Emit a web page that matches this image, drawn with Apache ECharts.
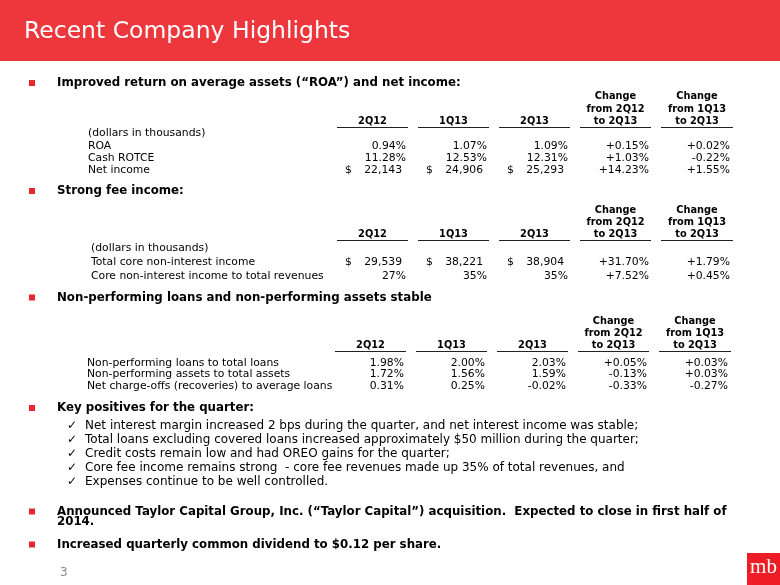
<!DOCTYPE html>
<html>
<head>
<meta charset="utf-8">
<script src="https://cdn.jsdelivr.net/npm/echarts@6/dist/echarts.min.js"></script>
<style>
html,body{margin:0;padding:0;background:#fff;}
#main{width:780px;height:585px;}
</style>
</head>
<body>
<div id="main"></div>
<script>
// ---------- data ----------
const titleText = 'Recent Company Highlights';
const periods = ['2Q12', '1Q13', '2Q13'];
const changeHeaders = [['Change', 'from 2Q12', 'to 2Q13'], ['Change', 'from 1Q13', 'to 2Q13']];
const unitNote = '(dollars in thousands)';

const heading1 = 'Improved return on average assets (\u201cROA\u201d) and net income:';
const sec1Labels = ['ROA', 'Cash ROTCE', 'Net income'];
const roa = [0.94, 1.07, 1.09];
const roaChange = [0.15, 0.02];
const cashRotce = [11.28, 12.53, 12.31];
const cashRotceChange = [1.03, -0.22];
const netIncome = [22143, 24906, 25293];
const netIncomeChange = [14.23, 1.55];

const heading2 = 'Strong fee income:';
const sec2Labels = ['Total core non-interest income', 'Core non-interest income to total revenues'];
const coreFeeIncome = [29539, 38221, 38904];
const coreFeeIncomeChange = [31.70, 1.79];
const coreFeeRatio = [27, 35, 35];
const coreFeeRatioChange = [7.52, 0.45];

const heading3 = 'Non-performing loans and non-performing assets stable';
const sec3Labels = ['Non-performing loans to total loans', 'Non-performing assets to total assets', 'Net charge-offs (recoveries) to average loans'];
const nplRatio = [1.98, 2.00, 2.03];
const nplRatioChange = [0.05, 0.03];
const npaRatio = [1.72, 1.56, 1.59];
const npaRatioChange = [-0.13, 0.03];
const ncoRatio = [0.31, 0.25, -0.02];
const ncoRatioChange = [-0.33, -0.27];

const heading4 = 'Key positives for the quarter:';
const keyPositives = [
  'Net interest margin increased 2 bps during the quarter, and net interest income was stable;',
  'Total loans excluding covered loans increased approximately $50 million during the quarter;',
  'Credit costs remain low and had OREO gains for the quarter;',
  'Core fee income remains strong  - core fee revenues made up 35% of total revenues, and',
  'Expenses continue to be well controlled.'
];
const heading5 = ['Announced Taylor Capital Group, Inc. (\u201cTaylor Capital\u201d) acquisition.  Expected to close in first half of', '2014.'];
const heading6 = 'Increased quarterly common dividend to $0.12 per share.';
const pageNumber = '3';
const logoText = 'mb';

// ---------- formatting ----------
const pct = (v, d) => v.toFixed(d === undefined ? 2 : d) + '%';
const chg = v => (v >= 0 ? '+' : '') + v.toFixed(2) + '%';
const money = v => v.toLocaleString('en-US');

// ---------- layout ----------
const F = '"DejaVu Sans", Verdana, sans-serif';
const fBold = 'bold 11.8px ' + F;
const fHead = 'bold 9.8px ' + F;
const fCell = '10.8px ' + F;
const fCheck = '12px ' + F;
const RED = '#EE373C';
const BUL = '#E8262D';

const colRight = [406, 487, 568, 649, 730];
const colCenter = [372.5, 453.5, 534.5, 615.5, 697];
const ulSeg = [[337, 408], [418, 489], [499, 570], [580, 651], [661, 733]];
const dollarX = [345, 426, 507];

const g = [];
function txt(x, y, text, font, align, fill) {
  g.push({ type: 'text', x: x, y: y, silent: true,
    style: { text: text, font: font, fill: fill || '#000', align: align || 'left', verticalAlign: 'middle' } });
}
function bullet(y) {
  g.push({ type: 'rect', silent: true, shape: { x: 29, y: y - 3, width: 6, height: 6 }, style: { fill: BUL } });
}
function tableHeader(yChange, yFrom, yTo, yLine, dx) {
  for (let i = 0; i < 3; i++) txt(colCenter[i] + dx, yTo, periods[i], fHead, 'center');
  for (let k = 0; k < 2; k++) {
    txt(colCenter[3 + k] + dx, yChange, changeHeaders[k][0], fHead, 'center');
    txt(colCenter[3 + k] + dx, yFrom, changeHeaders[k][1], fHead, 'center');
    txt(colCenter[3 + k] + dx, yTo, changeHeaders[k][2], fHead, 'center');
  }
  ulSeg.forEach(s => g.push({ type: 'line', silent: true,
    shape: { x1: s[0] + dx, y1: yLine, x2: s[1] + dx, y2: yLine }, style: { stroke: '#222', lineWidth: 1 } }));
}
function row(y, labelX, label, vals, chgs, kind, dx) {
  txt(labelX, y, label, fCell, 'left');
  for (let i = 0; i < 3; i++) {
    if (kind === 'money') {
      txt(dollarX[i] + dx, y, '$', fCell, 'left');
      txt(colRight[i] - 4 + dx, y, money(vals[i]), fCell, 'right');
    } else if (kind === 'pct0') {
      txt(colRight[i] + dx, y, pct(vals[i], 0), fCell, 'right');
    } else {
      txt(colRight[i] + dx, y, pct(vals[i]), fCell, 'right');
    }
  }
  for (let k = 0; k < 2; k++) txt(colRight[3 + k] + dx, y, chg(chgs[k]), fCell, 'right');
}

// header band
g.push({ type: 'rect', silent: true, shape: { x: 0, y: 0, width: 780, height: 61 }, style: { fill: RED } });
txt(24, 32, titleText, '23.5px ' + F, 'left', '#fff');

// section 1
bullet(83); txt(57, 83, heading1, fBold);
tableHeader(96.5, 109, 121, 127.5, 0);
txt(88, 133, unitNote, fCell);
row(146, 88, sec1Labels[0], roa, roaChange, 'pct', 0);
row(158, 88, sec1Labels[1], cashRotce, cashRotceChange, 'pct', 0);
row(170, 88, sec1Labels[2], netIncome, netIncomeChange, 'money', 0);

// section 2
bullet(191); txt(57, 191, heading2, fBold);
tableHeader(210, 222, 234, 240.5, 0);
txt(91, 248, unitNote, fCell);
row(262, 91, sec2Labels[0], coreFeeIncome, coreFeeIncomeChange, 'money', 0);
row(276, 91, sec2Labels[1], coreFeeRatio, coreFeeRatioChange, 'pct0', 0);

// section 3
bullet(297.5); txt(57, 297.5, heading3, fBold);
tableHeader(321, 333, 345, 351.5, -2);
row(363, 87, sec3Labels[0], nplRatio, nplRatioChange, 'pct', -2);
row(374.5, 87, sec3Labels[1], npaRatio, npaRatioChange, 'pct', -2);
row(386.5, 87, sec3Labels[2], ncoRatio, ncoRatioChange, 'pct', -2);

// section 4
bullet(408); txt(57, 408, heading4, fBold);
keyPositives.forEach((t, i) => {
  const y = 426 + i * 14;
  txt(67, y, '\u2713', fCheck);
  txt(85, y, t, fCheck);
});

// section 5/6
bullet(511.5); txt(57, 511.5, heading5[0], fBold); txt(57, 522, heading5[1], fBold);
bullet(544.5); txt(57, 544.5, heading6, fBold);

// footer
txt(60, 573, pageNumber, '12px ' + F, 'left', '#888');
g.push({ type: 'rect', silent: true, shape: { x: 747, y: 553, width: 33, height: 32 }, style: { fill: '#EE1C25' } });
txt(763.5, 567, logoText, '21px "Liberation Serif", "DejaVu Serif", serif', 'center', '#fff');

const chart = echarts.init(document.getElementById('main'), null, { renderer: 'canvas' });
chart.setOption({ backgroundColor: '#fff', animation: false, graphic: { elements: g } });
</script>
</body>
</html>
